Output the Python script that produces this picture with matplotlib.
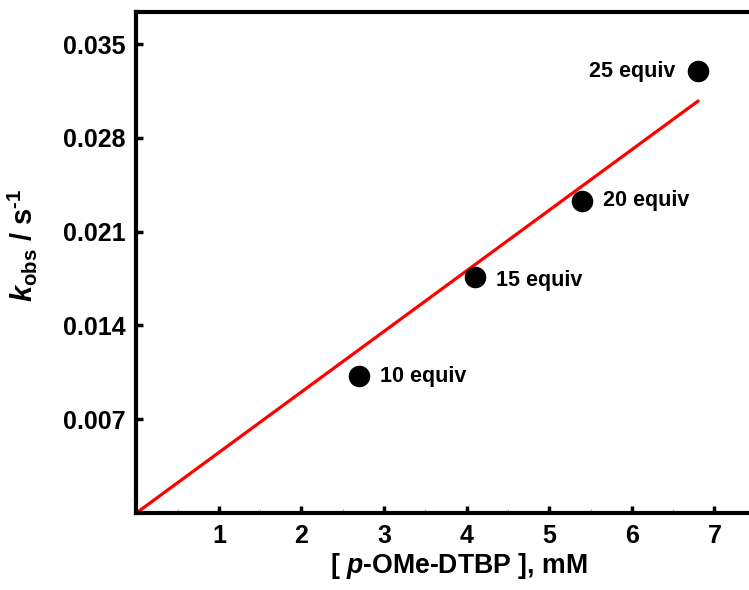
import numpy as np
import matplotlib.pyplot as plt

plt.rcParams['font.family'] = ['Liberation Sans', 'DejaVu Sans']
plt.rcParams['font.weight'] = 'bold'
plt.rcParams['axes.labelweight'] = 'bold'
plt.rcParams['mathtext.fontset'] = 'custom'
plt.rcParams['mathtext.rm'] = 'Liberation Sans:bold'
plt.rcParams['mathtext.it'] = 'Liberation Sans:italic:bold'
plt.rcParams['mathtext.bf'] = 'Liberation Sans:bold'
plt.rcParams['mathtext.default'] = 'rm'

# data
conc = [2.7, 4.1, 5.4, 6.8]                 # mM
kobs = [0.0102, 0.0176, 0.0233, 0.0330]     # s^-1
labels = ['10 equiv', '15 equiv', '20 equiv', '25 equiv']

x = np.array(conc)
y = np.array(kobs)
slope = np.sum(x * y) / np.sum(x * x)  # linear fit through origin
xfit = np.array([0, x.max()])

fig = plt.figure(figsize=(7.49, 5.9), dpi=100)
ax = fig.add_axes([0.182, 0.1305, 0.860, 0.849])

ax.plot(xfit, slope * xfit, color='red', lw=2.3, zorder=2)
ax.plot(x, y, 'o', color='black', ms=14.5, zorder=3)

for xi, yi, lab in zip(x, y, labels):
    if lab.startswith('25'):
        ax.annotate(lab, (xi, yi), xytext=(-16, 0), textcoords='offset points',
                    ha='right', va='center', fontsize=15.5, fontweight='bold')
    else:
        dy = -2 if lab.startswith('15') else 0
        ax.annotate(lab, (xi, yi), xytext=(15, dy), textcoords='offset points',
                    ha='left', va='center', fontsize=15.5, fontweight='bold')

ax.set_xlim(0, 7.8)
ax.set_ylim(0, 0.0374)
ax.set_xticks([1, 2, 3, 4, 5, 6, 7])
ax.set_yticks([0.007, 0.014, 0.021, 0.028, 0.035])
ax.set_yticklabels(['0.007', '0.014', '0.021', '0.028', '0.035'])
ax.set_xticks(np.arange(0.5, 7.5, 1.0), minor=True)

for s in ax.spines.values():
    s.set_linewidth(3)
ax.tick_params(which='major', direction='in', length=5, width=2.5, labelsize=18, pad=8)
ax.tick_params(which='minor', direction='in', length=3, width=0.6, color='0.6')
for t in ax.get_xticklabels() + ax.get_yticklabels():
    t.set_fontweight('bold')

ax.set_xlabel(r'[ $\mathit{p}$-OMe-DTBP ], mM', fontsize=19.2, labelpad=2)
ax.set_ylabel(r'$\mathit{k}_{\mathrm{obs}}$ / s$^{\text{-1}}$', fontsize=21,
              labelpad=17, y=0.535)

fig.savefig('out.png', dpi=100)
